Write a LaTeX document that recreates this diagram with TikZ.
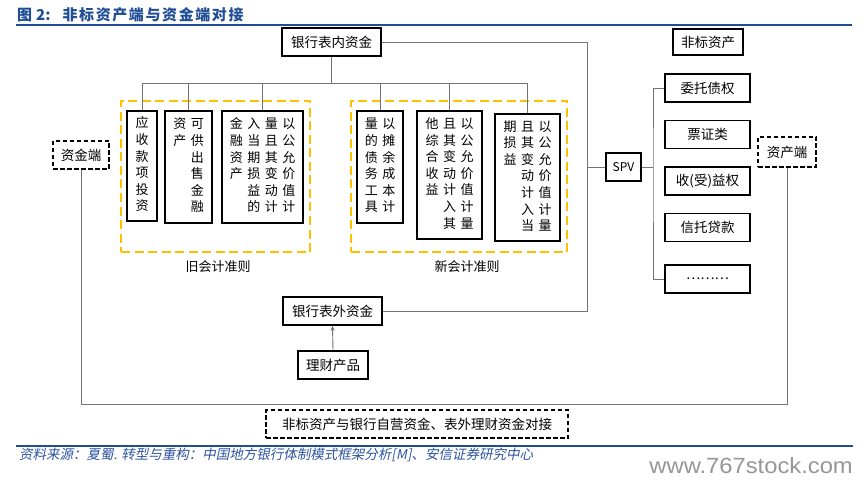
\documentclass[tikz,border=0pt]{standalone}
\usepackage{fontspec}
\setmainfont{Noto Sans CJK SC}
\newfontfamily\cjkit[FakeSlant=0.2]{Noto Sans CJK SC}
\newfontfamily\wmfont{Liberation Sans}
\usetikzlibrary{arrows.meta}
\definecolor{tblue}{RGB}{31,78,150}
\definecolor{fblue}{RGB}{46,84,160}
\definecolor{gold}{RGB}{255,192,0}
\definecolor{cgray}{RGB}{115,115,115}
\definecolor{wmgray}{RGB}{150,150,150}
\newcommand\vc[1]{\begin{tabular}[t]{@{}c@{}}#1\end{tabular}}
\newcommand\hsp{\hspace{4.5pt}}
\newcommand\tk{\kern1.6pt}
\begin{document}
\begin{tikzpicture}[x=1pt,y=-1pt,
  box/.style={draw=black, line width=1.6pt, fill=white, inner sep=0pt, font=\fontsize{13.5}{16}\selectfont},
  vbox/.style={draw=black, line width=1.6pt, fill=white, inner sep=0pt, font=\fontsize{13}{16.6}\selectfont},
  dbox/.style={draw=black, line width=1.8pt, dash pattern=on 4.5pt off 2.5pt, fill=white, inner sep=0pt, font=\fontsize{13.5}{16}\selectfont},
  ydash/.style={draw=gold, line width=2.8pt, dash pattern=on 9pt off 4.5pt, inner sep=0pt},
  conn/.style={draw=cgray, line width=0.9pt},
  lbl/.style={font=\fontsize{13}{16}\selectfont, inner sep=0pt}]
\useasboundingbox[fill=white] (0,0) rectangle (868,484);

% title
\node[anchor=west, text=tblue, font=\fontsize{15}{17}\selectfont\bfseries, inner sep=0pt] (title) at (17,15) {图\kern4pt 2:\hspace{12pt}非\tk 标\tk 资\tk 产\tk 端\tk 与\tk 资\tk 金\tk 端\tk 对\tk 接};
\draw[tblue, line width=2pt] (16,25) -- (852,25);

% yellow groups
\node[ydash, minimum width=189pt, minimum height=151pt] (og) at (215.5,176.5) {};
\node[ydash, minimum width=216pt, minimum height=151pt] (ng) at (459,176.5) {};
\node[lbl] (ogl) at (218,267) {旧会计准则};
\node[lbl] (ngl) at (467,267) {新会计准则};

% top
\node[box, minimum width=99pt, minimum height=28pt] (bn) at (331.5,42) {银行表内资金};
\node[box, minimum width=70pt, minimum height=26pt] (fb) at (708,42) {非标资产};

% old boxes
\node[vbox, minimum width=30pt, minimum height=110pt] (b1) at (142,166) {\vc{应\\收\\款\\项\\投\\资}};
\node[vbox, minimum width=47pt, minimum height=112pt] (b2) at (188.5,167) {\vc{资\\产}\hsp\vc{可\\供\\出\\售\\金\\融}};
\node[vbox, minimum width=81pt, minimum height=112pt] (b3) at (262.5,167) {\vc{金\\融\\资\\产}\hsp\vc{入\\当\\期\\损\\益\\的}\hsp\vc{量\\且\\其\\变\\动\\计}\hsp\vc{以\\公\\允\\价\\值\\计}};

% new boxes
\node[vbox, minimum width=46pt, minimum height=112pt] (n1) at (380,167) {\vc{量\\的\\债\\务\\工\\具}\hsp\vc{以\\摊\\余\\成\\本\\计}};
\node[vbox, minimum width=65pt, minimum height=128pt] (n2) at (449.5,175) {\vc{他\\综\\合\\收\\益}\hsp\vc{且\\其\\变\\动\\计\\入\\其}\hsp\vc{以\\公\\允\\价\\值\\计\\量}};
\node[vbox, minimum width=65pt, minimum height=127pt] (n3) at (527.5,177.5) {\vc{期\\损\\益}\hsp\vc{且\\其\\变\\动\\计\\入\\当}\hsp\vc{以\\公\\允\\价\\值\\计\\量}};

% sides
\node[dbox, minimum width=56pt, minimum height=28pt] (zj) at (81,155) {资金端};
\node[dbox, minimum width=58pt, minimum height=30pt] (zc) at (787,152) {资产端};
\node[box, font=\fontsize{12}{14}\selectfont, minimum width=35pt, minimum height=28pt] (spv) at (623.5,167) {SPV};

% right list
\node[box, minimum width=85pt, minimum height=28pt] (r1) at (707.5,88) {委托债权};
\node[box, minimum width=85pt, minimum height=28pt] (r2) at (707.5,134.5) {票证类};
\node[box, minimum width=85pt, minimum height=28pt] (r3) at (707.5,181) {收(受)益权};
\node[box, minimum width=85pt, minimum height=28pt] (r4) at (707.5,227.5) {信托贷款};
\node[box, minimum width=85pt, minimum height=28pt] (r5) at (707.5,279) {………};

% bottom
\node[box, minimum width=99pt, minimum height=28pt] (bw) at (332.5,311) {银行表外资金};
\node[box, minimum width=70pt, minimum height=28pt] (lc) at (333,365) {理财产品};
\node[dbox, minimum width=302pt, minimum height=28pt] (bd) at (417,424) {非标资产与银行自营资金、表外理财资金对接};

% connectors
\coordinate (tj) at (331.5,83);
\draw[conn] (bn.south) -- (tj);
\draw[conn] (b1.north) -- (b1.north |- tj) -- (n3.north |- tj) -- (n3.north);
\foreach \n in {b2,b3,n1,n2} \draw[conn] (\n.north) -- (\n.north |- tj);

\coordinate (vr) at (587,311);
\coordinate (vs) at (587,167);
\draw[conn] (bn.east) -| (vr) -- (bw.east);
\draw[conn] (spv.west) -- (vs);
\coordinate (sb) at (653,167);
\draw[conn] (spv.east) -- (sb);
\draw[conn] (r1.west) -| (sb) |- (r5.west);

\coordinate (ubot) at (430,404);
\draw[conn] (zj.south) -- (zj.south |- ubot) -- (zc.south |- ubot) -- (zc.south);

\draw[conn, -{Stealth[length=5pt,width=4pt]}] (lc.north) -- (bw.south);

% footer
\draw[tblue, line width=2pt] (16,446) -- (853,446);
\node[anchor=west, text=fblue, font=\fontsize{13.5}{15}\cjkit, inner sep=0pt] (src) at (19,455) {资料来源：夏蜀. 转型与重构：中国地方银行体制模式框架分析[M]、安信证券研究中心};
\node[anchor=east, text=wmgray, inner sep=0pt, font=\fontsize{22}{22}\wmfont] (wm) at (853,466) {\scalebox{1.08}[1]{www.767stock.com}};
\end{tikzpicture}
\end{document}
